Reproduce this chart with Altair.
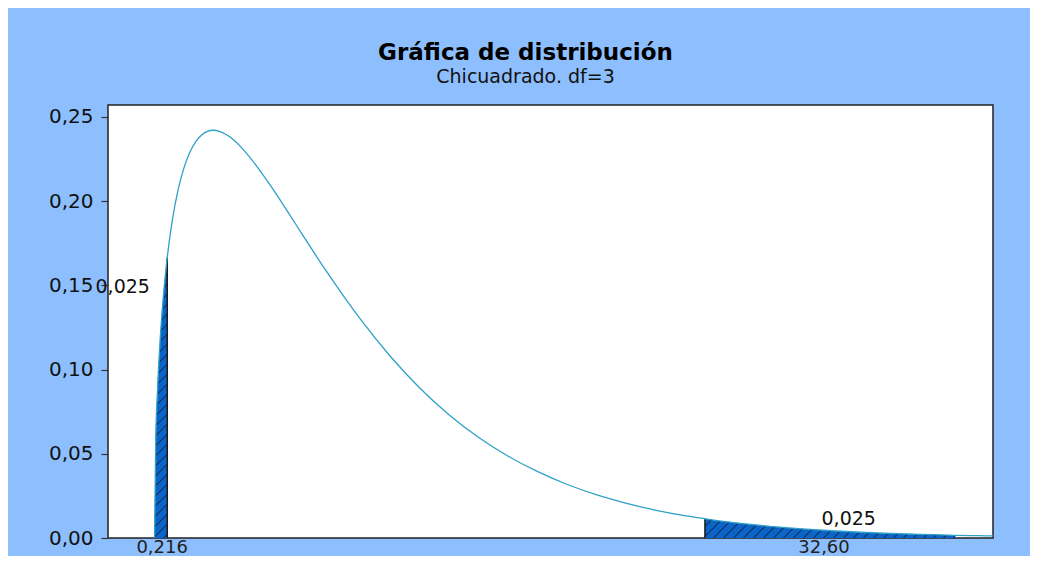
import altair as alt
import numpy as np
import pandas as pd

# ---- data ----
curve_x = [0.0, 0.02, 0.05, 0.1, 0.15, 0.216, 0.3, 0.4, 0.5, 0.6, 0.7, 0.8, 0.9, 1.0, 1.1, 1.2,
           1.3, 1.5, 1.75, 2.0, 2.25, 2.5, 2.75, 3.0, 3.25, 3.5, 4.0, 4.5, 5.0, 5.5, 6.0, 6.5,
           7.0, 7.5, 8.0, 8.5, 9.0, 9.348, 9.5, 10.0, 10.5, 11.0, 11.5, 12.0, 12.5, 13.0, 13.5,
           13.6, 14.0, 14.24]
curve_y = [0.0, 0.0558, 0.087, 0.120, 0.1433, 0.1664, 0.1881, 0.2066, 0.2197, 0.2289, 0.2352,
           0.2392, 0.2413, 0.2420, 0.2414, 0.2398, 0.2375, 0.2308, 0.2200, 0.2076, 0.1943, 0.1807,
           0.1672, 0.1542, 0.1416, 0.1297, 0.1080, 0.0892, 0.0732, 0.0598, 0.0487, 0.0395, 0.0319,
           0.0257, 0.0207, 0.0166, 0.0133, 0.0114, 0.0106, 0.0085, 0.0068, 0.0054, 0.0043, 0.0034,
           0.0027, 0.0022, 0.0017, 0.0016, 0.00136, 0.00122]

left_tail = [0.0, 0.216]      # shaded lower tail (x range)
right_tail = [9.348, 13.6]    # shaded upper tail (x range)

tail_labels = ["0,025", "0,025"]
tail_label_x = [-0.54, 11.79]
tail_label_y = [0.149, 0.0115]

x_labels = ["0,216", "32,60"]
x_label_pos = [0.13, 11.37]

title = "Gráfica de distribución"
subtitle = "Chicuadrado. df=3"

FONT = "DejaVu Sans"
BG = "#8DBEFD"
FILL = "#0B64C8"
LINE = "#2FA0C8"

XMIN, XMAX = -0.79, 14.24
YMAX = 0.257
W, H = 885, 433

curve = pd.DataFrame({"x": curve_x, "y": curve_y})


def tail_frame(lo, hi):
    xs_ = [v for v in curve_x if lo <= v <= hi]
    ys_ = [curve_y[curve_x.index(v)] for v in xs_]
    return pd.DataFrame({"x": xs_, "y": ys_})


left_df = tail_frame(*left_tail)
right_df = tail_frame(*right_tail)

# edges of shaded tails (vertical lines at the critical values)
edges = pd.DataFrame({
    "x": [left_tail[1], right_tail[0]],
    "y": [float(np.interp(left_tail[1], curve_x, curve_y)),
          float(np.interp(right_tail[0], curve_x, curve_y))],
})

# hatch lines (45 degrees on screen) clipped to the shaded regions
k = (W / (XMAX - XMIN)) / (H / YMAX)
step = 10 * (XMAX - XMIN) / W
segs = []
for lo, hi in (left_tail, right_tail):
    grid = np.linspace(lo, hi, 3000)
    top = np.interp(grid, curve_x, curve_y)
    for x0 in np.arange(-8.0, hi, step):
        yl = (grid - x0) * k
        inside = (yl >= 0) & (yl <= top)
        if inside.sum() > 2:
            gx = grid[inside]
            segs.append({"x": gx.min(), "y": (gx.min() - x0) * k,
                         "x2": gx.max(), "y2": (gx.max() - x0) * k})
hatch = pd.DataFrame(segs)

xs = alt.Scale(domain=[XMIN, XMAX], nice=False, zero=False)
ys = alt.Scale(domain=[0, YMAX], nice=False)
yaxis = alt.Axis(values=[0, 0.05, 0.1, 0.15, 0.2, 0.25], format=".2f",
                 labelExpr="replace(datum.label, '.', ',')", title=None)


def tail_area(df):
    return alt.Chart(df).mark_area(color=FILL, interpolate="monotone", opacity=1).encode(
        x=alt.X("x:Q", scale=xs, axis=None),
        y=alt.Y("y:Q", scale=ys, axis=yaxis),
    )


hatch_layer = alt.Chart(hatch).mark_rule(color="#101828", strokeWidth=1).encode(
    x=alt.X("x:Q", scale=xs), y=alt.Y("y:Q", scale=ys),
    x2="x2:Q", y2="y2:Q",
)

edge_layer = alt.Chart(edges).mark_rule(color="#1a1a1a", strokeWidth=1.5).encode(
    x=alt.X("x:Q", scale=xs), y=alt.Y("y:Q", scale=ys), y2=alt.datum(0),
)

line = alt.Chart(curve).mark_line(color=LINE, strokeWidth=1.3, interpolate="monotone").encode(
    x=alt.X("x:Q", scale=xs), y=alt.Y("y:Q", scale=ys),
)

ann = alt.Chart(pd.DataFrame({"t": tail_labels, "x": tail_label_x, "y": tail_label_y})).mark_text(
    font=FONT, fontSize=19, color="#111111", baseline="middle", align="center"
).encode(x=alt.X("x:Q", scale=xs), y=alt.Y("y:Q", scale=ys), text="t:N")

xl = alt.Chart(pd.DataFrame({"t": x_labels, "x": x_label_pos})).mark_text(
    font=FONT, fontSize=18, color="#222222", baseline="middle", align="center", dy=10
).encode(x=alt.X("x:Q", scale=xs), y=alt.datum(0), text="t:N")

chart = alt.layer(tail_area(left_df), tail_area(right_df), hatch_layer, edge_layer,
                  line, ann, xl).properties(
    width=W, height=H,
    title=alt.TitleParams(title, subtitle=subtitle, anchor="middle", dx=-25,
                          font=FONT, fontSize=23, fontWeight="bold", color="#000000",
                          subtitleFont=FONT, subtitleFontSize=19, subtitleColor="#111111",
                          subtitlePadding=3, offset=18),
    autosize=alt.AutoSizeParams(type="none"),
    padding={"left": 100, "top": 97, "right": 37, "bottom": 18},
    background=BG,
).configure_view(
    fill="white", stroke="#222222", strokeWidth=1.5
).configure_axis(
    domain=False, grid=False, tickColor="#333333", tickSize=7, tickWidth=1.2,
    labelFont=FONT, labelFontSize=20, labelColor="#111111", labelPadding=8,
)

chart.save("out.html", embed_options={"renderer": "svg", "actions": False})
